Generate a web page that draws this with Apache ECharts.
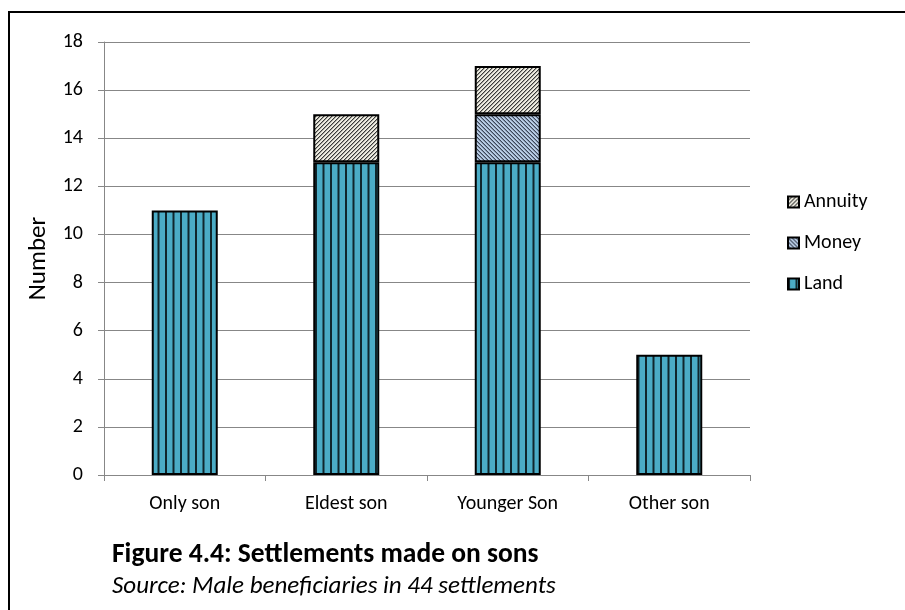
<!DOCTYPE html>
<html>
<head>
<meta charset="utf-8">
<script src="https://cdn.jsdelivr.net/npm/echarts@6/dist/echarts.min.js"></script>
<style>
html,body{margin:0;padding:0;background:#fff;}
#chart{width:905px;height:610px;}
</style>
</head>
<body>
<div id="chart"></div>
<script>
// ---- data ----
var categories = ['Only son', 'Eldest son', 'Younger Son', 'Other son'];
var landValues = [11, 13, 13, 5];
var moneyValues = [null, null, 2, null];
var annuityValues = [null, 2, 2, null];
var yTicks = [0, 2, 4, 6, 8, 10, 12, 14, 16, 18];
var captionTitle = 'Figure 4.4: Settlements made on sons';
var captionSource = 'Source: Male beneficiaries in 44 settlements';

var FONT = 'Carlito, Lato, "Open Sans", sans-serif';

function makeCanvas(w, h) {
  var c = document.createElement('canvas');
  c.width = w; c.height = h;
  return c;
}
function landPattern() {
  var c = makeCanvas(15, 4), g = c.getContext('2d');
  g.fillStyle = '#4BACC6'; g.fillRect(0, 0, 15, 4);
  g.fillStyle = '#10262c';
  g.fillRect(0, 0, 2, 4);
  g.fillRect(7.5, 0, 2, 4);
  return c;
}
function diagPattern(bg, dark, mid, dir) {
  var c = makeCanvas(4, 4), g = c.getContext('2d');
  g.fillStyle = bg; g.fillRect(0, 0, 4, 4);
  for (var i = 0; i < 4; i++) {
    var y = dir > 0 ? 3 - i : i;
    g.fillStyle = dark; g.fillRect(i, y, 1, 1);
    g.fillStyle = mid; g.fillRect(i, (y + 1) % 4, 1, 1);
  }
  return c;
}

var chart = echarts.init(document.getElementById('chart'), null, {renderer: 'canvas'});
var landFill = {image: landPattern(), repeat: 'repeat'};
var annuityFill = {image: diagPattern('#EEECE1', '#3a3a3a', '#a4a49c', 1), repeat: 'repeat'};
var moneyFill = {image: diagPattern('#B9CDE5', '#3c4658', '#8090a6', -1), repeat: 'repeat'};

var option = {
  animation: false,
  backgroundColor: '#fff',
  textStyle: {fontFamily: FONT},
  graphic: [{
    type: 'rect', silent: true,
    shape: {x: 9, y: 12, width: 1000, height: 1000},
    style: {fill: 'none', stroke: '#000', lineWidth: 2}
  }],
  title: [{
    text: captionTitle,
    left: 107, top: 536,
    textStyle: {fontFamily: FONT, fontSize: 27.5, fontWeight: 'bold', color: '#000'}
  }, {
    text: captionSource,
    left: 107, top: 569,
    textStyle: {fontFamily: FONT, fontSize: 25, fontWeight: 'normal', fontStyle: 'italic', color: '#000'}
  }],
  legend: {
    orient: 'vertical',
    left: 782, top: 187,
    itemWidth: 11, itemHeight: 11,
    itemGap: 21,
    data: ['Annuity', 'Money', 'Land'],
    textStyle: {fontFamily: FONT, fontSize: 20, color: '#000', lineHeight: 20},
    icon: 'rect'
  },
  grid: {left: 104, right: 155, top: 42, bottom: 135},
  xAxis: {
    type: 'category',
    data: categories,
    axisLine: {lineStyle: {color: '#878787', width: 1}},
    axisTick: {show: true, length: 6, lineStyle: {color: '#878787'}},
    axisLabel: {fontFamily: FONT, fontSize: 20, color: '#000', margin: 19}
  },
  yAxis: {
    type: 'value',
    min: yTicks[0], max: yTicks[yTicks.length - 1], interval: yTicks[1] - yTicks[0],
    name: 'Number',
    nameLocation: 'middle',
    nameGap: 53,
    nameTextStyle: {fontFamily: FONT, fontSize: 25, color: '#000'},
    axisLine: {show: true, lineStyle: {color: '#878787', width: 1}},
    axisTick: {show: true, length: 6, lineStyle: {color: '#878787'}},
    axisLabel: {fontFamily: FONT, fontSize: 20, color: '#000', margin: 21},
    splitLine: {show: true, lineStyle: {color: '#878787', width: 1}}
  },
  series: [{
    name: 'Land', type: 'bar', stack: 's', barWidth: 66,
    data: landValues,
    itemStyle: {color: landFill, borderColor: '#000', borderWidth: 2}
  }, {
    name: 'Money', type: 'bar', stack: 's', barWidth: 66,
    data: moneyValues,
    itemStyle: {color: moneyFill, borderColor: '#000', borderWidth: 2}
  }, {
    name: 'Annuity', type: 'bar', stack: 's', barWidth: 66,
    data: annuityValues,
    itemStyle: {color: annuityFill, borderColor: '#000', borderWidth: 2}
  }]
};
chart.setOption(option);
</script>
</body>
</html>
